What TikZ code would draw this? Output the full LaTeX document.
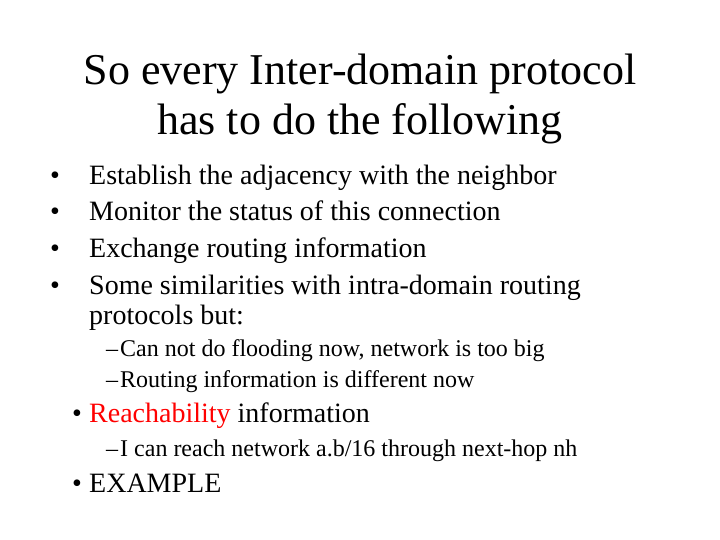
\documentclass[tikz,border=0pt]{standalone}
\usepackage{fontspec}
\setmainfont{Liberation Serif}
\begin{document}
\begin{tikzpicture}[x=1pt,y=1pt,
  t/.style={anchor=base west,inner sep=0pt,font=\fontsize{28}{32}\selectfont},
  s/.style={anchor=base west,inner sep=0pt,font=\fontsize{24}{28}\selectfont},
  ttl/.style={anchor=base,inner sep=0pt,font=\fontsize{44}{52}\selectfont}]
\useasboundingbox (0,0) rectangle (720,540);
\node[ttl] (t1) at (360,540-85) {So every Inter-domain protocol};
\node[ttl] (t2) at (360,540-135) {has to do the following};
\node[t] (b1) at (50,540-185) {•}; \node[t] (l1) at (89,540-185) {Establish the adjacency with the neighbor};
\node[t] (b2) at (50,540-221) {•}; \node[t] (l2) at (89,540-221) {Monitor the status of this connection};
\node[t] (b3) at (50,540-258) {•}; \node[t] (l3) at (89,540-258) {Exchange routing information};
\node[t] (b4) at (50,540-295) {•}; \node[t] (l4) at (89,540-295) {Some similarities with intra-domain routing};
\node[t] (l4b) at (89,540-325) {protocols but:};
\node[s] (d1) at (106,540-357) {–}; \node[s] (m1) at (120,540-357) {Can not do flooding now, network is too big};
\node[s] (d2) at (106,540-388) {–}; \node[s] (m2) at (120,540-388) {Routing information is different now};
\node[t] (b5) at (72,540-423) {•}; \node[t] (l5) at (89,540-423) {\textcolor{red}{Reachability} information};
\node[s] (d3) at (106,540-457) {–}; \node[s] (m3) at (120,540-457) {I can reach network a.b/16 through next-hop nh};
\node[t] (b6) at (72,540-493) {•}; \node[t] (l6) at (89,540-493) {EXAMPLE};
\end{tikzpicture}
\end{document}
